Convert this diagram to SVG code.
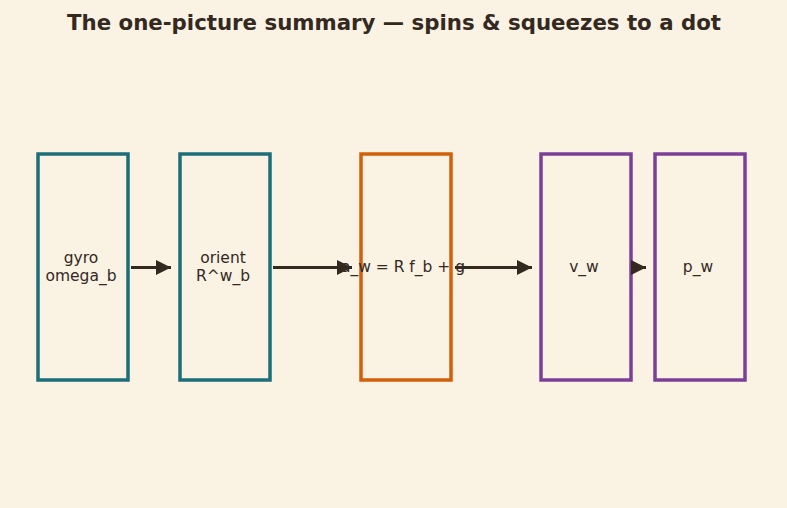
<svg xmlns="http://www.w3.org/2000/svg" width="787" height="508" viewBox="0 0 787 508">
<style>
.bg{fill:#faf2e3}
.box{fill:#faf2e3;stroke-width:3.5}
.teal{stroke:#1c6f78}
.orange{stroke:#d2600a}
.purple{stroke:#7c3f98}
.lbl{font-family:"DejaVu Sans",sans-serif;font-size:15.5px;fill:#33291f;text-anchor:middle}
.title{font-family:"DejaVu Sans",sans-serif;font-size:21.3px;font-weight:bold;fill:#33291f;text-anchor:middle}
.edge{stroke:#33291f;stroke-width:3;fill:none;marker-end:url(#ah)}
</style>
<defs>
<marker id="ah" viewBox="0 0 10 10" refX="10" refY="5" markerWidth="5.5" markerHeight="5" markerUnits="strokeWidth" orient="auto">
<path d="M0,0 L10,5 L0,10 z" fill="#33291f"/>
</marker>
</defs>
<rect class="bg" x="0" y="0" width="787" height="508"/>
<text class="title" x="394" y="30">The one-picture summary — spins &amp; squeezes to a dot</text>
<g id="gyro"><rect class="box teal" x="38" y="154" width="90" height="226"/><text class="lbl" x="81" y="263">gyro</text><text class="lbl" x="81" y="281">omega_b</text></g>
<g id="orient"><rect class="box teal" x="180" y="154" width="90" height="226"/><text class="lbl" x="223" y="263">orient</text><text class="lbl" x="223" y="281">R^w_b</text></g>
<g id="accel"><rect class="box orange" x="361" y="154" width="90" height="226"/><text class="lbl" x="403" y="272">a_w = R f_b + g</text></g>
<g id="vel"><rect class="box purple" x="541" y="154" width="90" height="226"/><text class="lbl" x="584" y="272">v_w</text></g>
<g id="pos"><rect class="box purple" x="655" y="154" width="90" height="226"/><text class="lbl" x="698" y="272">p_w</text></g>
<g id="connectors">
<line class="edge" x1="131" y1="267.5" x2="171" y2="267.5"/>
<line class="edge" x1="273" y1="267.5" x2="352" y2="267.5"/>
<line class="edge" x1="455" y1="267.5" x2="532" y2="267.5"/>
<line class="edge" x1="631" y1="267.5" x2="646" y2="267.5"/>
</g>
</svg>
